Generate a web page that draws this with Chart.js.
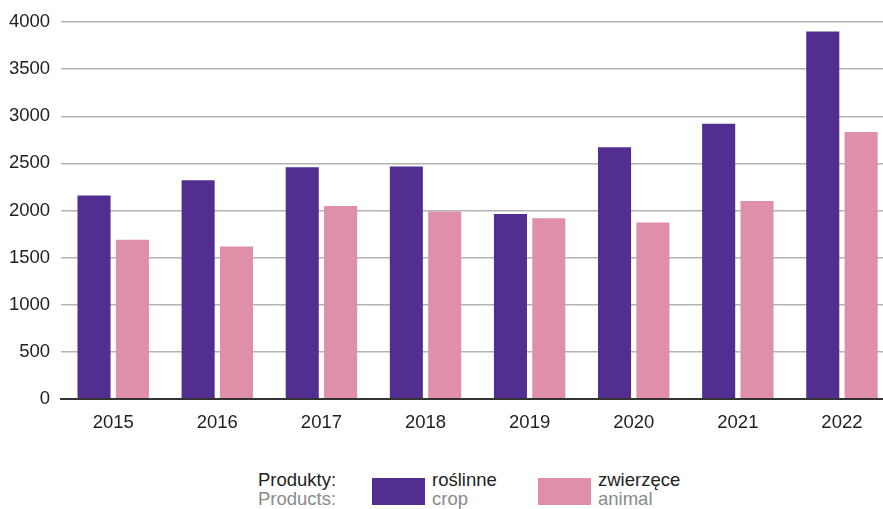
<!DOCTYPE html>
<html>
<head>
<meta charset="utf-8">
<script src="https://cdn.jsdelivr.net/npm/chart.js@4"></script>
<style>
    body { margin: 0; background: #fff; overflow: hidden; width: 883px; height: 509px; }
    #wrap { position: relative; width: 894px; height: 457px; }
    .legend { position: absolute; top: 468px; left: 0; width: 883px; font-family: "Liberation Sans", Arial, sans-serif; font-size: 18.5px; line-height: 19px; }
    .legend .item { position: absolute; top: 2px; }
    .legend .pl { color: #222; }
    .legend .en { color: #8a8a8a; }
    .legend .box { position: absolute; width: 53px; height: 27px; top: 10px; }
</style>
</head>
<body>
<div id="wrap"><canvas id="barChart"></canvas></div>
<div class="legend">
    <div class="item" style="left:258px"><div class="pl">Produkty:</div><div class="en">Products:</div></div>
    <div class="box" style="left:372px; background:#522e91"></div>
    <div class="item" style="left:432px"><div class="pl">roślinne</div><div class="en">crop</div></div>
    <div class="box" style="left:538px; background:#df8fa8"></div>
    <div class="item" style="left:598px"><div class="pl">zwierzęce</div><div class="en">animal</div></div>
</div>
<script>
// Chart data
const years = ['2015', '2016', '2017', '2018', '2019', '2020', '2021', '2022'];
const cropValues = [2160, 2320, 2458, 2468, 1963, 2670, 2921, 3900];
const animalValues = [1690, 1616, 2048, 1990, 1917, 1872, 2101, 2833];
const yTicks = [0, 500, 1000, 1500, 2000, 2500, 3000, 3500, 4000];

document.addEventListener("DOMContentLoaded", function () {
    const ctx = document.getElementById('barChart').getContext('2d');
    const font = { family: '"Liberation Sans", Arial, sans-serif', size: 18.5 };

    new Chart(ctx, {
        type: 'bar',
        data: {
            labels: years,
            datasets: [{
                label: 'roślinne',
                data: cropValues,
                backgroundColor: '#522e91',
                categoryPercentage: 0.737,
                barPercentage: 0.862
            }, {
                label: 'zwierzęce',
                data: animalValues,
                backgroundColor: '#df8fa8',
                categoryPercentage: 0.737,
                barPercentage: 0.862
            }]
        },
        options: {
            responsive: true,
            maintainAspectRatio: false,
            animation: false,
            layout: { padding: { top: 7, right: 0, left: -2, bottom: 18 } },
            plugins: {
                legend: { display: false },
                tooltip: { enabled: false }
            },
            scales: {
                x: {
                    grid: { display: false },
                    border: { display: true, color: '#333', width: 2 },
                    ticks: { color: '#222', font: font, padding: 5, maxRotation: 0 }
                },
                y: {
                    min: 0,
                    max: 4000,
                    afterBuildTicks: axis => { axis.ticks = yTicks.map(v => ({ value: v })); },
                    grid: { color: '#b4b4b4', lineWidth: 1.5, drawTicks: false },
                    border: { display: false },
                    ticks: { color: '#222', font: font, padding: 11, callback: v => String(v) }
                }
            }
        }
    });
});
</script>
</body>
</html>
